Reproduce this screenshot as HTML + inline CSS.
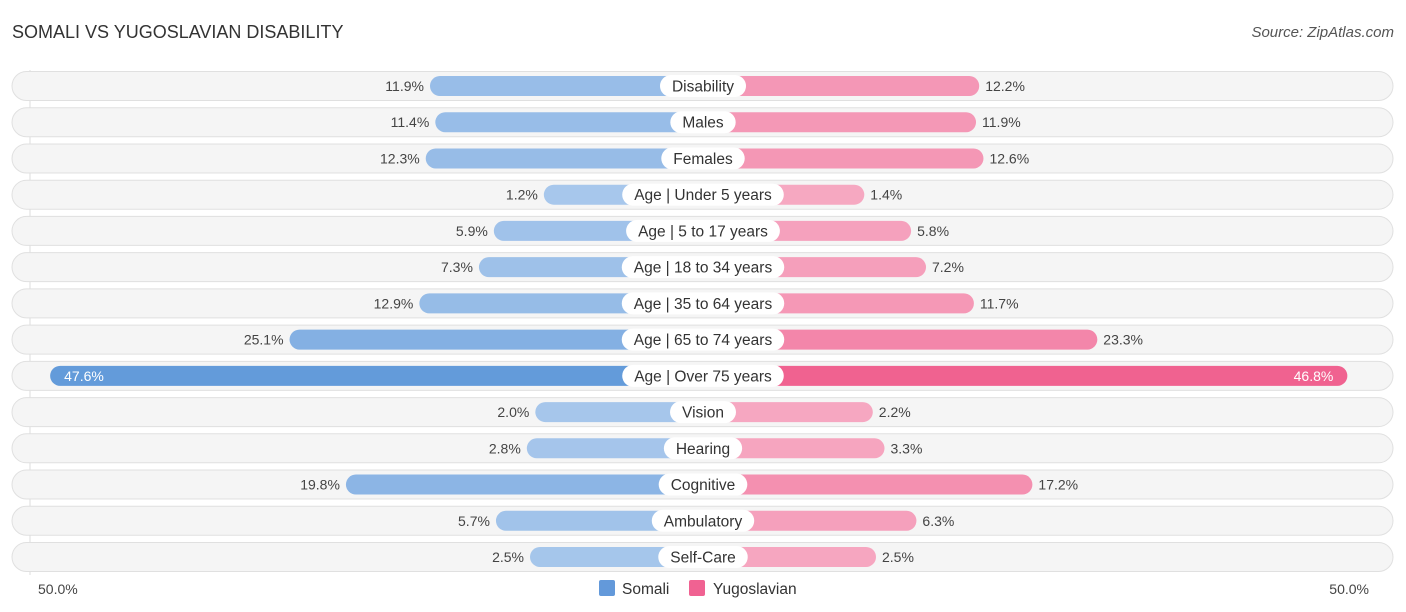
<!DOCTYPE html>
<html><head><meta charset="utf-8"><style>
body{margin:0;background:#fff;font-family:"Liberation Sans",Roboto,sans-serif;}
#wrap{position:relative;width:1406px;height:612px;overflow:hidden;}
.t{position:absolute;font-size:18px;color:#333;left:12px;top:22px;}
.s{position:absolute;font-size:15px;color:#555;font-style:italic;right:12px;top:24px;}
</style></head><body>
<div id="wrap">
<div class="t">SOMALI VS YUGOSLAVIAN DISABILITY</div>
<div class="s">Source: ZipAtlas.com</div>
<svg id="svg" width="1406" height="612" style="position:absolute;left:0;top:0"></svg>
</div>
<script>
const categories=["Disability","Males","Females","Age | Under 5 years","Age | 5 to 17 years","Age | 18 to 34 years","Age | 35 to 64 years","Age | 65 to 74 years","Age | Over 75 years","Vision","Hearing","Cognitive","Ambulatory","Self-Care"];
const somali=[11.9,11.4,12.3,1.2,5.9,7.3,12.9,25.1,47.6,2.0,2.8,19.8,5.7,2.5];
const yugoslavian=[12.2,11.9,12.6,1.4,5.8,7.2,11.7,23.3,46.8,2.2,3.3,17.2,6.3,2.5];
const axisLabels=["50.0%","50.0%"];
const svg=document.getElementById('svg');const NS='http://www.w3.org/2000/svg';
const cx=703,y0=86,dy=36.23;
function w(v){return 146.4+10.64*v;}
function mix(a,b,t){return 'rgb('+a.map((x,i)=>Math.round(x+(b[i]-x)*t)).join(',')+')';}
function el(tag,attrs,parent){const e=document.createElementNS(NS,tag);for(const k in attrs)e.setAttribute(k,attrs[k]);(parent||svg).appendChild(e);return e;}
const grid=el('line',{x1:30,x2:30,y1:70,y2:575,stroke:'#ddd','stroke-width':1});


categories.forEach((c,i)=>{
 const y=y0+i*dy;
 const g=el('g',{});
 
 
 el('rect',{x:12,y:y-14.5,width:1381,height:29,rx:14.5,fill:'#f5f5f5',stroke:'#e0e0e0','stroke-width':1},g);
 const ts=Math.min(1,somali[i]/47.6),ty=Math.min(1,yugoslavian[i]/46.8);
 const lw=w(somali[i]),rw=w(yugoslavian[i]);
 const lb=el('rect',{x:cx-lw,y:y-10,width:lw,height:20,rx:10,fill:mix([169,200,236],[99,155,218],ts)},g);
 
 
 const rb=el('rect',{x:cx,y:y-10,width:rw,height:20,rx:10,fill:mix([246,170,195],[240,98,144],ty)},g);
 
 
 const big=i===8;
 const lt=el('text',{x:big?cx-lw+14:cx-lw-6,y:y+5,'font-size':14,fill:big?'#fff':'#444','text-anchor':big?'start':'end'},g);
 lt.textContent=somali[i].toFixed(1)+'%';
 
 
 const rt=el('text',{x:big?cx+rw-14:cx+rw+6,y:y+5,'font-size':14,fill:big?'#fff':'#444','text-anchor':big?'end':'start'},g);
 rt.textContent=yugoslavian[i].toFixed(1)+'%';
 
 
 const pill=el('rect',{y:y-11,height:22,rx:11,fill:'#fff'},g);
 
 
 const ct=el('text',{x:cx,y:y+5.5,'font-size':15.5,fill:'#333','text-anchor':'middle'},g);
 ct.textContent=c;
 
 
 const bw=ct.getComputedTextLength()+24;
 pill.setAttribute('x',cx-bw/2);pill.setAttribute('width',bw);
});
const a1=el('text',{x:38,y:594,'font-size':14,fill:'#444'});a1.textContent=axisLabels[0];


const a2=el('text',{x:1369,y:594,'font-size':14,fill:'#444','text-anchor':'end'});a2.textContent=axisLabels[1];


const l1=el('rect',{x:599,y:580,width:16,height:16,rx:2,fill:'#6399da'});


const l1t=el('text',{x:622,y:594,'font-size':15.5,fill:'#333'});l1t.textContent='Somali';


const l2=el('rect',{x:689,y:580,width:16,height:16,rx:2,fill:'#f06292'});


const l2t=el('text',{x:713,y:594,'font-size':15.5,fill:'#333'});l2t.textContent='Yugoslavian';


</script>
</body></html>
